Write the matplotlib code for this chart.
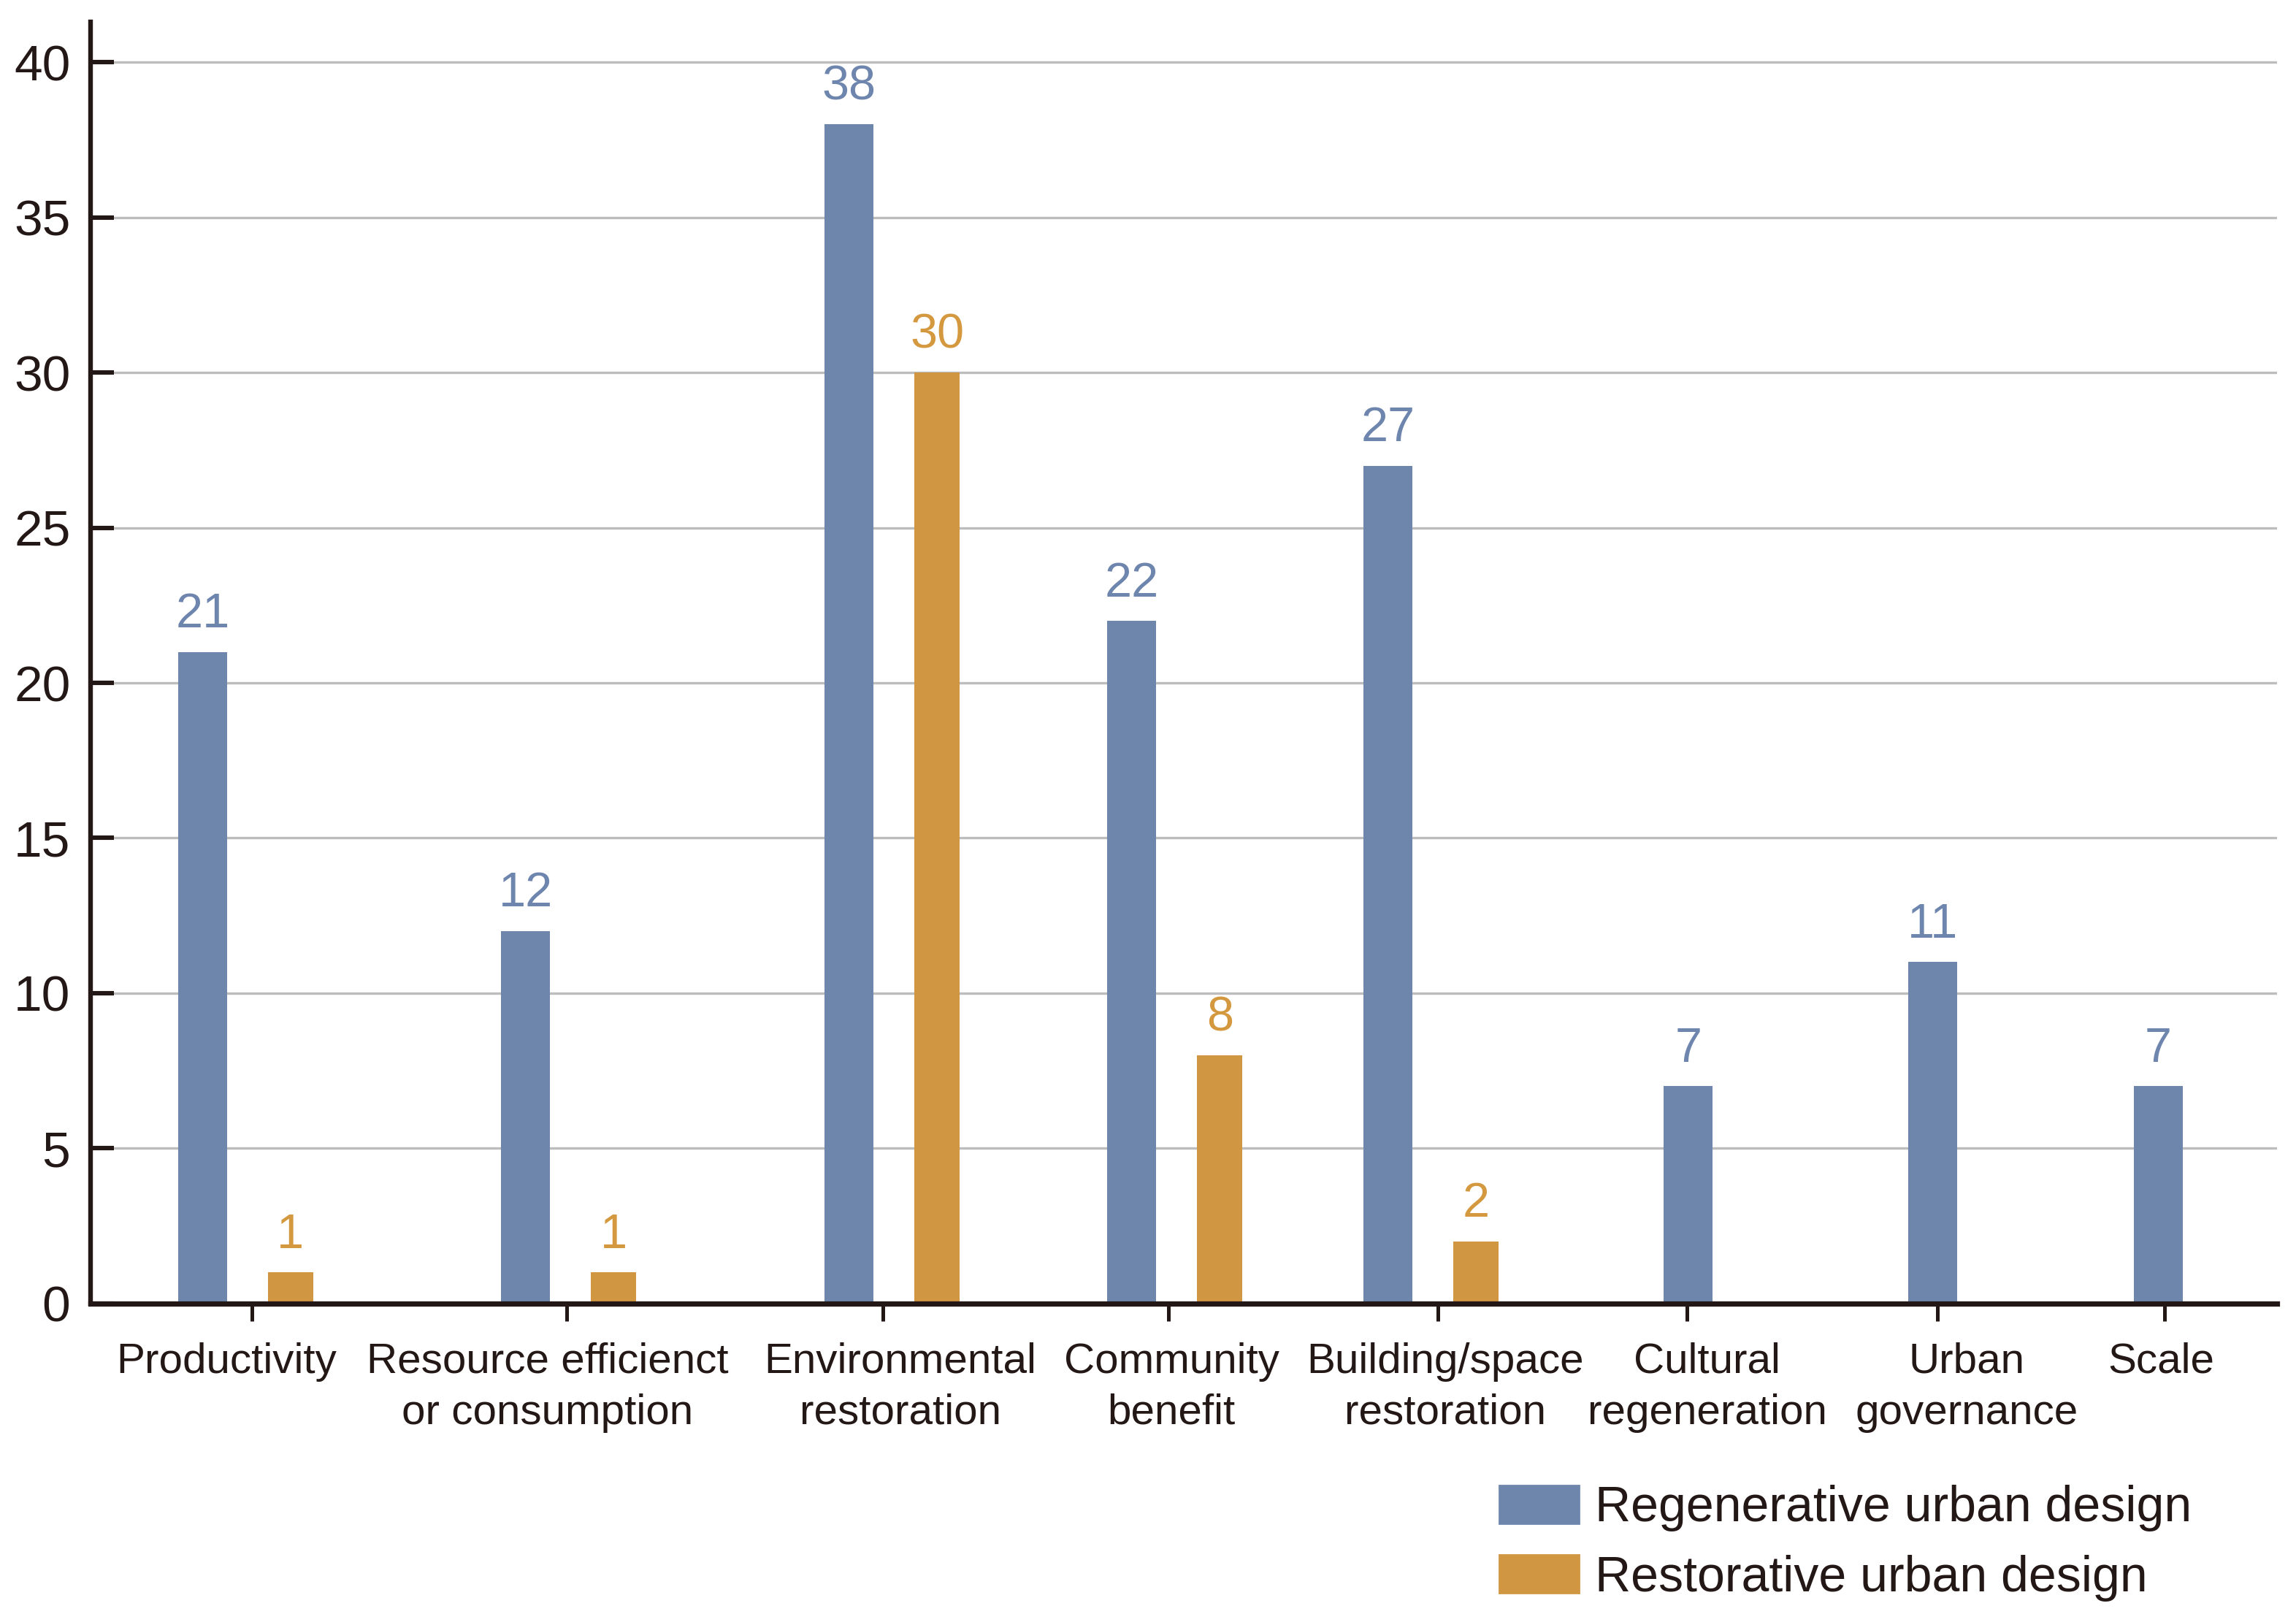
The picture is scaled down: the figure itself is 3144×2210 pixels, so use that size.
import numpy as np
import matplotlib
matplotlib.use('Agg')
import matplotlib.pyplot as plt
from matplotlib.patches import Patch

# datos
categorias = ['Productivity', 'Resource efficienct\nor consumption', 'Environmental\nrestoration',
              'Community\nbenefit', 'Building/space\nrestoration', 'Cultural\nregeneration',
              'Urban\ngovernance', 'Scale']
regenerative = [21, 12, 38, 22, 27, 7, 11, 7]
restorative = [1, 1, 30, 8, 2, None, None, None]
series_names = ['Regenerative urban design', 'Restorative urban design']
yticks = [0, 5, 10, 15, 20, 25, 30, 35, 40]

# layout (en unidades del eje): centros de grupo, marcas y etiquetas
centros = [1.065, 3.27, 5.48, 7.41, 9.16, 10.91, 12.58, 14.12]
pos_marcas = [1.10, 3.25, 5.41, 7.36, 9.20, 10.90, 12.61, 14.16]
pos_etiquetas = [0.93, 3.12, 5.53, 7.38, 9.25, 11.04, 12.81, 14.14]
ancho_blue = 0.335
ancho_or = 0.31
desp = 0.30

c_blue = '#6F86AC'
c_orange = '#D09641'
c_text = '#231815'

plt.rcParams['font.family'] = ['Liberation Sans', 'DejaVu Sans']

fig = plt.figure(figsize=(15.72, 11.05), dpi=200)
ax = fig.add_axes([0.0395, 0.1924, 0.9522, 0.794])

x_blue, h_blue, x_or, h_or = [], [], [], []
for i in range(0, len(categorias)):
    if restorative[i] is None:
        x_blue.append(centros[i])
    else:
        x_blue.append(centros[i] - desp)
        x_or.append(centros[i] + desp)
        h_or.append(restorative[i])
    h_blue.append(regenerative[i])

b1 = ax.bar(x_blue, h_blue, width=ancho_blue, color=c_blue, zorder=3)
b2 = ax.bar(x_or, h_or, width=ancho_or, color=c_orange, zorder=3)

ax.bar_label(b1, padding=7, fontsize=24, color='#6E86AE')
ax.bar_label(b2, padding=7, fontsize=24, color='#D4983F')

ax.set_xlim(0, 14.93)
ax.set_ylim(0, 41.3)
ax.set_yticks(yticks)
# etiquetas (mayores, sin marca) y marcas (menores, sin etiqueta)
ax.set_xticks(pos_etiquetas)
ax.set_xticklabels(categorias, fontsize=21, color=c_text, linespacing=1.38)
ax.set_xticks(pos_marcas, minor=True)
ax.tick_params(axis='x', which='major', length=0, pad=19)
ax.tick_params(axis='x', which='minor', direction='out', length=8.5, width=1.8, color=c_text)
ax.tick_params(axis='y', direction='in', length=11.5, width=2.2, color=c_text,
               labelsize=25, labelcolor=c_text, pad=10)

ax.grid(axis='y', color='#BDBDBD', linewidth=1.2)
ax.set_axisbelow(True)

for s in ['top', 'right']:
    ax.spines[s].set_visible(False)
ax.spines['left'].set_linewidth(2.3)
ax.spines['bottom'].set_linewidth(2.6)
for s in ['left', 'bottom']:
    ax.spines[s].set_color(c_text)
    ax.spines[s].set_zorder(4)

# leyenda
handles = [Patch(color=c_blue), Patch(color=c_orange)]
fig.legend(handles, series_names, loc='upper left', bbox_to_anchor=(0.653, 0.080),
           frameon=False, fontsize=24.5, handlelength=1.6, handleheight=0.8,
           handletextpad=0.33, labelspacing=0.46, borderpad=0, borderaxespad=0,
           labelcolor=c_text)

fig.savefig('out.png', dpi=200)
